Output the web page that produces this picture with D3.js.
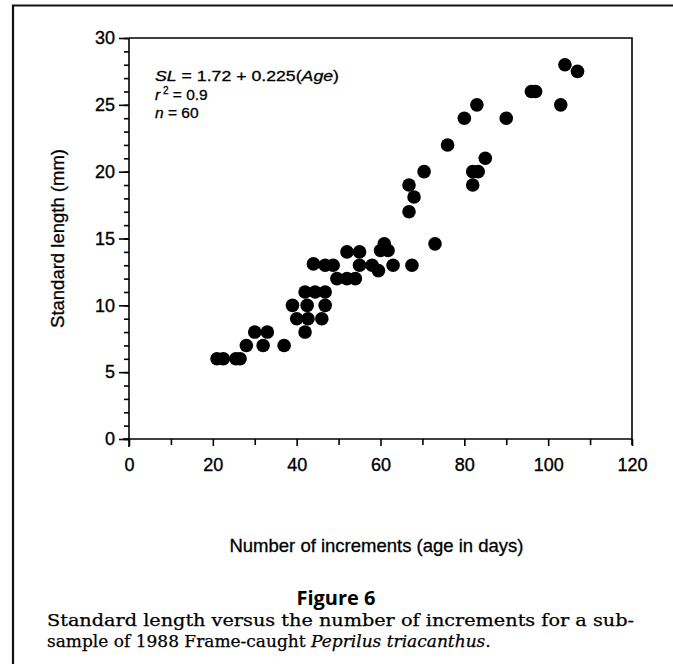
<!DOCTYPE html>
<html><head><meta charset="utf-8">
<script src="https://cdn.jsdelivr.net/npm/d3@7"></script>
<style>body{margin:0;background:#fff}svg{display:block}</style></head>
<body>
<script>
// Data
const ageDays = [104,107,96,97,103,83,80,90,76,85,82,83.3,82,70.4,66.8,68,66.8,73,60.9,61.8,60,63,67.5,52,55,55,58,59.5,44,46.8,48.7,49.6,52,54,42,44.4,46.8,39,42.5,46.8,40,42.7,46,42,30,33,28,32,37,21,22.5,25.5,26.5];
const standardLength = [28,27.5,26,26,25,25,24,24,22,21,20,20,19,20,19,18.1,17,14.6,14.6,14.1,14.1,13,13,14,14,13,13,12.6,13.1,13,13,12,12,12,11,11,11,10,10,10,9,9,9,8,8,8,7,7,7,6,6,6,6];
const xTicks = [0,20,40,60,80,100,120];
const xMinorTicks = [10,30,50,70,90,110];
const yTicks = [0,5,10,15,20,25,30];
const yMinorTicks = d3.range(0,31,1);
const xTitle = "Number of increments (age in days)";
const yTitle = "Standard length (mm)";
const figTitle = "Figure 6";

const W = 673, H = 664;
const svg = d3.select("body").append("svg").attr("width", W).attr("height", H);
const sans = "'Liberation Sans',Arial,sans-serif";

// outer frame (left + top rule)
svg.append("path").attr("d", `M13,${H} V5.5 H${W}`).attr("fill","none").attr("stroke","#111").attr("stroke-width",2.2);

const x = d3.scaleLinear().domain([0,120]).range([129,632]);
const y = d3.scaleLinear().domain([0,30]).range([439,38]);

// box top/right
svg.append("path").attr("d", `M${x(0)},${y(30)} H${x(120)} V${y(0)+6}`).attr("fill","none").attr("stroke","#000").attr("stroke-width",1.6);

const gyMinor = svg.append("g").attr("transform",`translate(${x(0)},0)`)
  .call(d3.axisLeft(y).tickValues(yMinorTicks).tickSize(5).tickSizeOuter(0).tickFormat(""));
gyMinor.select(".domain").remove();
const gy = svg.append("g").attr("transform",`translate(${x(0)},0)`)
  .call(d3.axisLeft(y).tickValues(yTicks).tickSize(10).tickSizeOuter(0).tickPadding(4));
gy.select(".domain").attr("d", `M0,${y(30)}V${y(0)+8}`);
const gxMinor = svg.append("g").attr("transform",`translate(0,${y(0)})`)
  .call(d3.axisBottom(x).tickValues(xMinorTicks).tickSize(6).tickSizeOuter(0).tickFormat(""));
gxMinor.select(".domain").remove();
const gx = svg.append("g").attr("transform",`translate(0,${y(0)})`)
  .call(d3.axisBottom(x).tickValues(xTicks).tickSize(7).tickSizeOuter(0).tickPadding(12));
gx.select(".domain").attr("d", `M${x(0)-6},0H${x(120)}`);

svg.selectAll(".tick line, .domain").attr("stroke","#000").attr("stroke-width",1.6);
svg.selectAll(".tick text").attr("font-family",sans).attr("font-size",18).attr("fill","#000")
  .attr("stroke","#000").attr("stroke-width",0.35);

// points
svg.append("g").selectAll("circle").data(ageDays.map((a,i)=>[a,standardLength[i]])).join("circle")
  .attr("cx",d=>x(d[0])).attr("cy",d=>y(d[1])).attr("r",6.8).attr("fill","#000");

// equation
const eqStyle = s => s.attr("font-family",sans).attr("font-size",15.5).attr("fill","#000").attr("stroke","#000").attr("stroke-width",0.3);
const t1 = svg.append("text").attr("x",155).attr("y",81).call(eqStyle)
  .attr("textLength",184).attr("lengthAdjust","spacingAndGlyphs");
t1.append("tspan").attr("font-style","italic").text("SL");
t1.append("tspan").text(" = 1.72 + 0.225(");
t1.append("tspan").attr("font-style","italic").text("Age");
t1.append("tspan").text(")");
const t2 = svg.append("text").attr("x",155).attr("y",99.5).call(eqStyle);
t2.append("tspan").attr("font-style","italic").text("r");
t2.append("tspan").attr("font-size",10).attr("dy",-6).text(" 2");
t2.append("tspan").attr("dy",6).text(" = 0.9");
const t3 = svg.append("text").attr("x",155).attr("y",118).call(eqStyle);
t3.append("tspan").attr("font-style","italic").text("n");
t3.append("tspan").text(" = 60");

// axis titles
svg.append("text").attr("x",(x(0)+x(120))/2 - 4).attr("y",552).attr("text-anchor","middle")
  .attr("font-family",sans).attr("font-size",18.5).attr("stroke","#000").attr("stroke-width",0.3).text(xTitle);
svg.append("text").attr("transform",`translate(64,${(y(0)+y(30))/2}) rotate(-90)`).attr("text-anchor","middle")
  .attr("font-family",sans).attr("font-size",18.5).attr("stroke","#000").attr("stroke-width",0.3).text(yTitle);

// figure caption
svg.append("text").attr("x",336).attr("y",605).attr("text-anchor","middle")
  .attr("font-family","'Open Sans',Lato,sans-serif").attr("font-weight","bold").attr("font-size",20).text(figTitle);
const serif = "'DejaVu Serif','Liberation Serif',serif";
svg.append("text").attr("x",47).attr("y",626).attr("font-family",serif).attr("font-size",17)
  .attr("stroke","#000").attr("stroke-width",0.25)
  .attr("textLength",587).attr("lengthAdjust","spacingAndGlyphs")
  .text("Standard length versus the number of increments for a sub-");
const c2 = svg.append("text").attr("x",47).attr("y",647).attr("font-family",serif).attr("font-size",17)
  .attr("stroke","#000").attr("stroke-width",0.25);
c2.append("tspan").text("sample of 1988 Frame-caught ");
c2.append("tspan").attr("font-style","italic").text("Peprilus triacanthus");
c2.append("tspan").text(".");
</script>
</body></html>
